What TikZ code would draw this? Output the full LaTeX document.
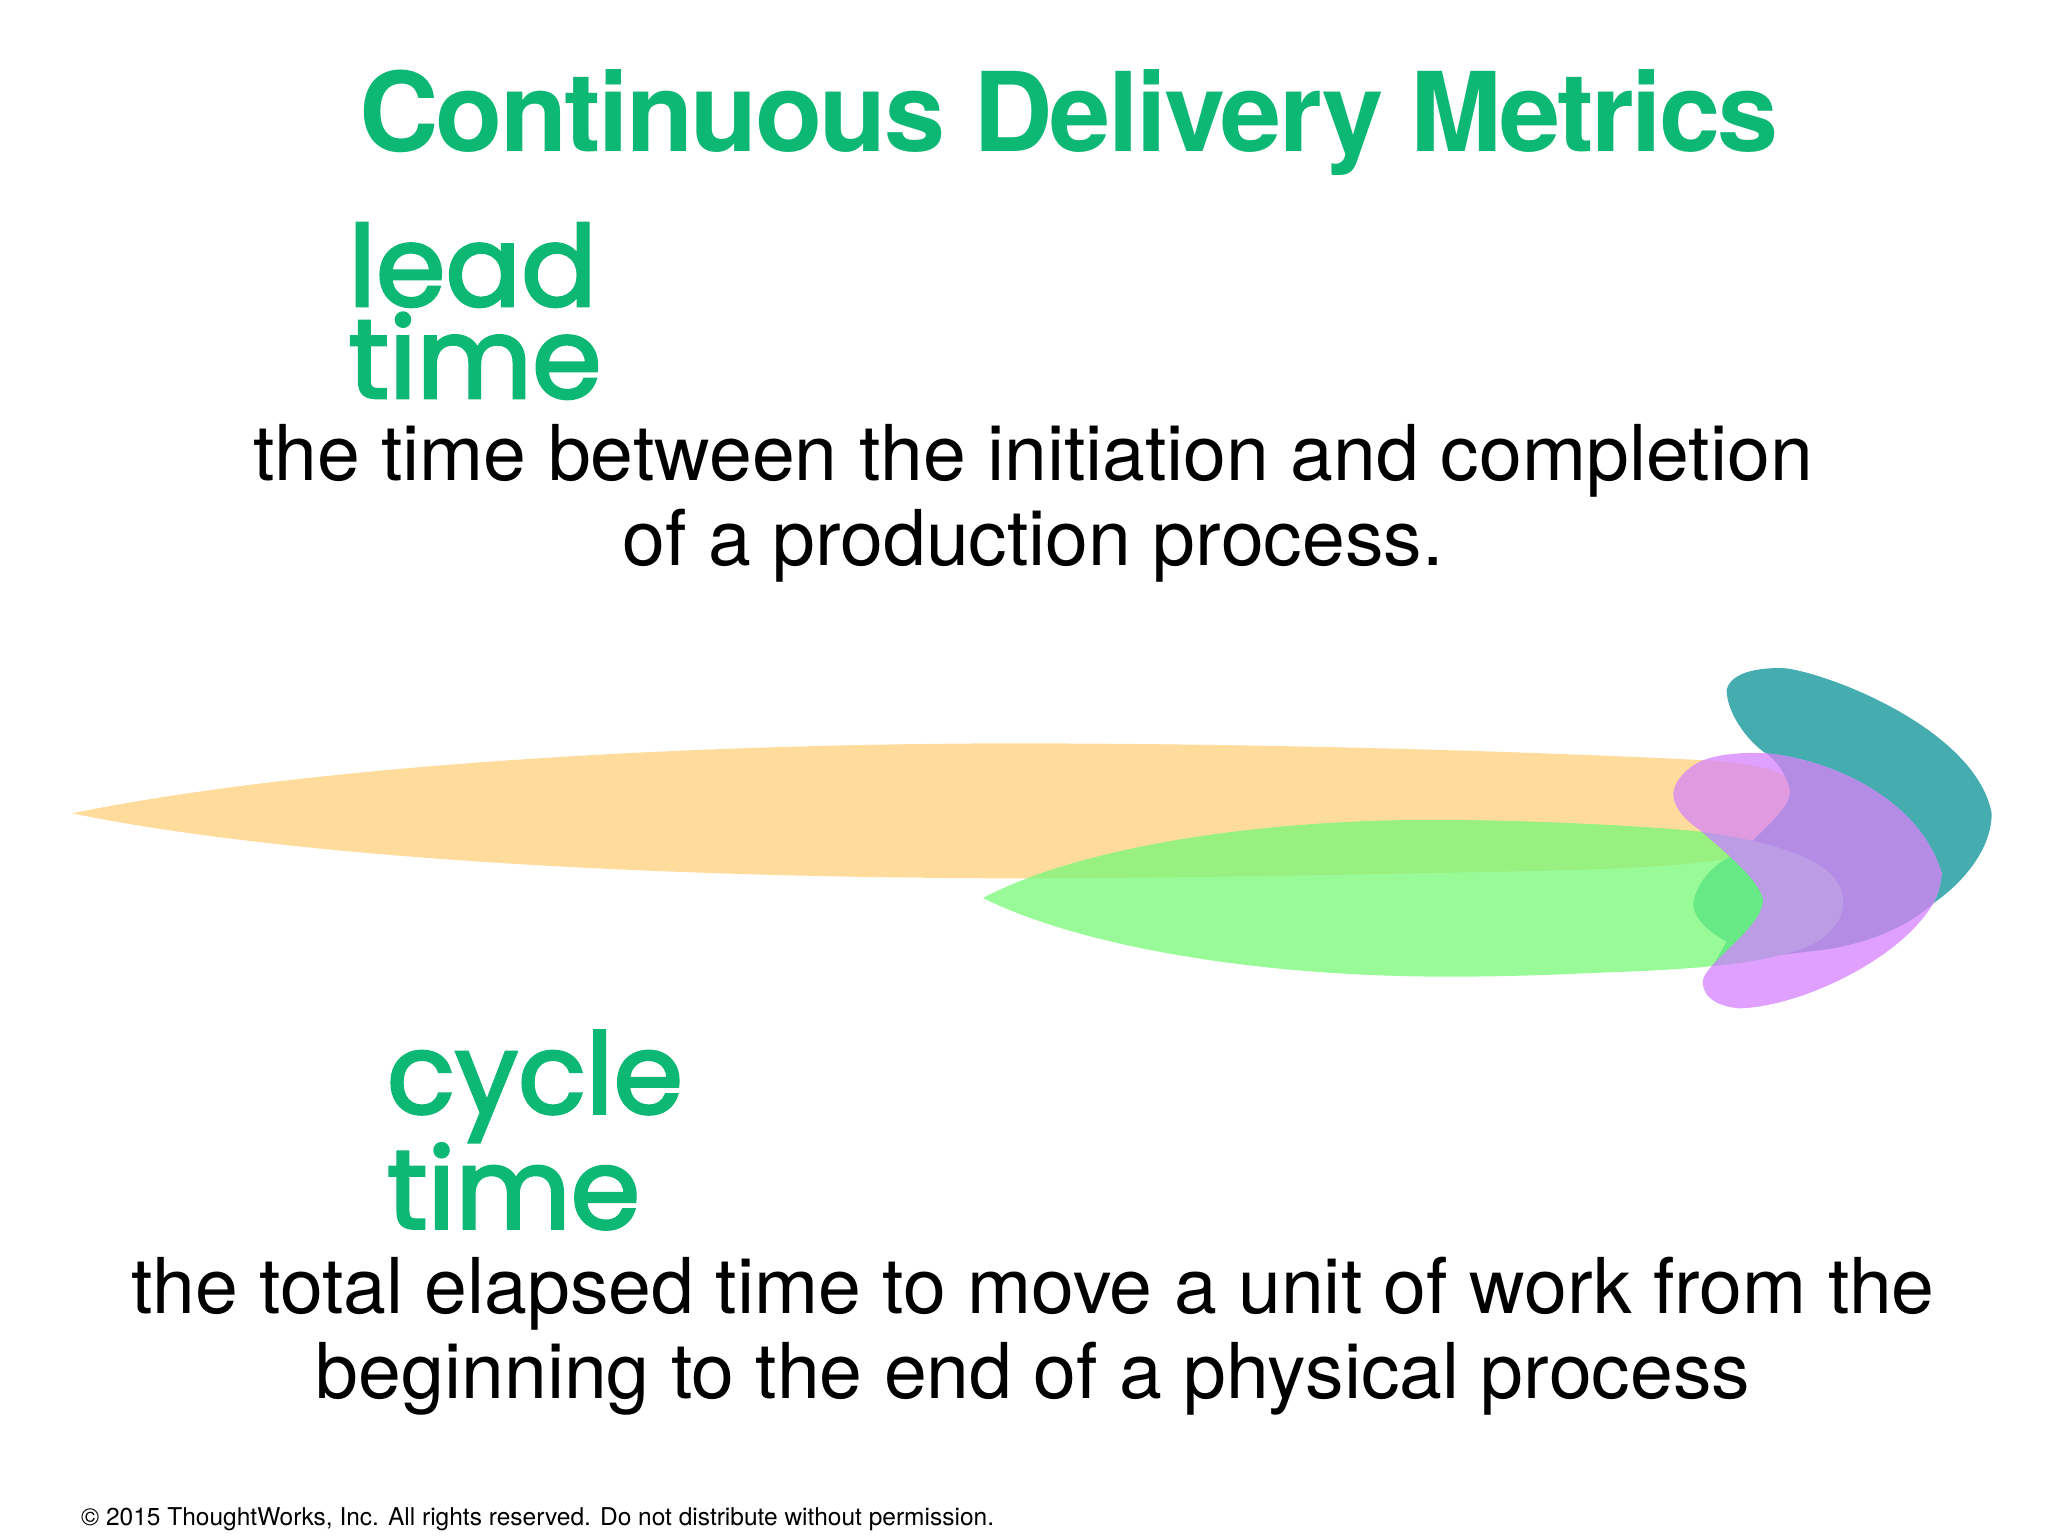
\documentclass[tikz,border=0pt]{standalone}
\usepackage{fontspec}
\setmainfont{TeX Gyre Heros}
\newfontfamily\handfont[FakeBold=2.5]{Poppins}
\definecolor{brand}{HTML}{0DB774}
\definecolor{cteal}{HTML}{45ADB0}
\definecolor{corange}{HTML}{FFDC9C}
\definecolor{cgreen}{HTML}{98FB98}
\definecolor{cboth}{HTML}{98F080}
\definecolor{clens}{HTML}{67E985}
\definecolor{cpink}{HTML}{DFA0FF}
\definecolor{cpinkor}{HTML}{DF9AE0}
\definecolor{cpurple}{HTML}{B48CE6}
\definecolor{cpale}{HTML}{BC9CE4}
\def\orangep{(-4584,520) .. controls (-4000,400) and (-3000,315) .. (-1800,310) .. controls (-900,310) and (-100,340) .. (300,360) .. controls (480,368) and (600,400) .. (600,470) .. controls (590,570) and (480,620) .. (390,655) .. controls (250,680) and (0,690) .. (-300,695) .. controls (-800,705) and (-1300,715) .. (-1800,715) .. controls (-3000,710) and (-4000,640) .. (-4584,520) -- cycle}
\def\greenp{(-1851,774) .. controls (-1600,640) and (-1100,540) .. (-500,540) .. controls (-250,540) and (100,555) .. (300,575) .. controls (480,600) and (730,650) .. (730,785) .. controls (730,870) and (640,930) .. (520,950) .. controls (420,975) and (250,990) .. (0,998) .. controls (-150,1005) and (-300,1010) .. (-450,1010) .. controls (-1100,1010) and (-1600,900) .. (-1851,774) -- cycle}
\def\pinkp{(300,365) .. controls (340,345) and (420,335) .. (500,340) .. controls (700,360) and (960,480) .. (1025,700) .. controls (1020,750) and (1010,770) .. (1000,790) .. controls (900,960) and (600,1100) .. (420,1105) .. controls (340,1100) and (300,1060) .. (310,1015) .. controls (330,960) and (490,860) .. (490,780) .. controls (480,720) and (380,640) .. (300,570) .. controls (240,530) and (220,490) .. (220,460) .. controls (225,420) and (260,385) .. (300,365) -- cycle}
\def\tealp{(380,150) .. controls (390,100) and (470,80) .. (560,85) .. controls (720,110) and (1130,280) .. (1175,520) .. controls (1175,620) and (1100,720) .. (1000,790) .. controls (900,880) and (750,925) .. (620,935) .. controls (500,950) and (420,960) .. (340,975) -- (380,905) .. controls (300,860) and (280,820) .. (280,790) .. controls (290,720) and (350,670) .. (390,650) -- (450,610) .. controls (520,540) and (570,500) .. (570,450) .. controls (560,400) and (520,350) .. (490,335) .. controls (430,290) and (380,210) .. (380,150) -- cycle}
\tikzset{
  zm/.style={x=0.33333pt,y=-0.33333pt,shift={(1600pt,-640pt)}},
  title/.style={text=brand,font=\fontsize{110}{110}\selectfont\bfseries,inner sep=0pt,anchor=base},
  body/.style={text=black,font=\fontsize{77}{85}\selectfont,align=center,inner sep=0pt},
  hand/.style={text=brand,font=\fontsize{112}{92}\selectfont\handfont,align=left,inner sep=0pt},
  foot/.style={text=black,font=\fontsize{24.5}{24.5}\selectfont,inner sep=0pt,anchor=base west}
}
\begin{document}
\begin{tikzpicture}[x=1pt,y=-1pt]
\useasboundingbox (0,0) rectangle (2048,1536);
\node[title] (ttl) at (1069,151) {\addfontfeature{LetterSpace=-2.5}Continuous Delivery Metrics};
\node[hand] (lead) at (475,311) {lead\\time};
\node[body] (leaddef) at (1033,503) {the time between the initiation and completion\\of a production process.};
\begin{scope}[zm]
  \fill[cteal] \tealp;
  \fill[corange] \orangep;
  \fill[cgreen] \greenp;
  \begin{scope}\clip \orangep; \fill[cboth] \greenp; \end{scope}
  \begin{scope}\clip \tealp; \fill[clens] \greenp; \end{scope}
  \fill[cpink] \pinkp;
  \begin{scope}\clip \pinkp; \fill[cpinkor] \orangep; \end{scope}
  \begin{scope}\clip \pinkp; \fill[cpurple] \tealp; \end{scope}
  \begin{scope}\clip \pinkp; \fill[cpale] \greenp; \end{scope}
\end{scope}
\node[hand] (cycle) at (535,1130) {cycle\\time};
\node[body] (cycledef) at (1033,1336) {the total elapsed time to move a unit of work from the\\beginning to the end of a physical process};
\node[foot] (copy) at (81,1525) {© 2015 ThoughtWorks, Inc. All rights reserved. Do not distribute without permission.};
\end{tikzpicture}
\end{document}
